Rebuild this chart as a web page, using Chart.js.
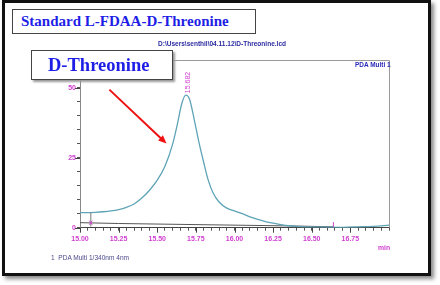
<!DOCTYPE html>
<html>
<head>
<meta charset="utf-8">
<script src="https://cdn.jsdelivr.net/npm/chart.js@4.4.0/dist/chart.umd.min.js"></script>
<style>
  html, body { margin: 0; padding: 0; background: #fff; }
  #wrap { position: relative; width: 440px; height: 285px; overflow: hidden; }
  #chart { position: absolute; left: 0; top: 0; }
  .frame { position: absolute; left: 2px; top: 0px; width: 423px; height: 270px;
    border: 3.5px solid #111; box-shadow: 3px 3px 4px #8a8a8a; }
  .box { position: absolute; background: #fff; border: 1.5px solid #444;
    font-family: "Liberation Serif", serif; font-weight: bold; color: #1e1ee6;
    white-space: nowrap; }
  #title { left: 12px; top: 9px; width: 234px; height: 23px; font-size: 15px;
    line-height: 23px; padding-left: 8px; box-sizing: content-box; }
  #sample { left: 31px; top: 50px; width: 140px; height: 28px; font-size: 18.5px;
    line-height: 28px; text-indent: 16px; box-shadow: 2px 2px 2px #999; }
  .small { position: absolute; font-family: "Liberation Sans", Arial, sans-serif;
    white-space: nowrap; transform-origin: 0 50%; }
  #path { left: 158px; top: 39px; font-size: 7.5px; color: #2a2aa0; font-weight: bold; transform: scaleX(0.87); }
  #pda { left: 355px; top: 60px; font-size: 7.5px; color: #2a2ab8; font-weight: bold; transform: scaleX(0.86); }
  #unit { left: 378px; top: 243px; font-size: 8px; color: #d040d0; font-weight: bold; transform: scaleX(0.85); }
  #legend { left: 51px; top: 253px; font-size: 8px; color: #4a4a8a; transform: scaleX(0.82); }
</style>
</head>
<body>
<div id="wrap">
  <canvas id="chart" width="440" height="285"></canvas>
  <div class="frame"></div>
  <div class="box" id="title">Standard L-FDAA-D-Threonine</div>
  <div class="small" id="path">D:\Users\senthil\04.11.12\D-Threonine.lcd</div>
  <div class="box" id="sample">D-Threonine</div>
  <div class="small" id="pda">PDA Multi 1</div>
  <div class="small" id="unit">min</div>
  <div class="small" id="legend">1&nbsp;&nbsp;PDA Multi 1/340nm 4nm</div>
</div>
<script>
// --- chromatogram data ---
const times = [15.00, 15.05, 15.10, 15.15, 15.20, 15.25, 15.30, 15.35, 15.40, 15.45,
  15.50, 15.55, 15.60, 15.63, 15.66, 15.685, 15.71, 15.74, 15.77, 15.80,
  15.83, 15.86, 15.90, 15.95, 16.00, 16.05, 16.10, 16.15, 16.20, 16.25,
  16.30, 16.35, 16.40, 16.50, 16.60, 16.70, 16.80, 16.90, 17.00];
const signal = [5.4, 5.4, 5.5, 5.7, 6.0, 6.5, 7.3, 8.5, 10.6, 13.4,
  17.0, 22.0, 30.0, 37.0, 44.6, 47.4, 45.8, 38.5, 30.5, 23.5,
  17.0, 12.6, 9.2, 7.0, 6.0, 5.0, 3.9, 3.0, 2.2, 1.6,
  1.1, 0.7, 0.5, 0.3, 0.2, 0.15, 0.3, 0.5, 0.9];

// integration baseline drawn under the peak
const baseTimes = [15.00, 15.25, 16.40, 16.64];
const baseVals = [1.8, 1.5, 0.6, 0.3];

// peak start / end markers
const markTimes = [15.07, 16.64];
const markLow = [0.4, 0.3];
const markHigh = [5.4, 2.0];

const peakTime = 15.682;
const peakHeight = 47.4;
const peakLabel = "15.682";

const xLabels = ["15.00", "15.25", "15.50", "15.75", "16.00", "16.25", "16.50", "16.75"];
const yLabels = [0, 25, 50];

// arrow pointing at the peak flank, in data units
const arrowFrom = { x: 15.19, y: 49.4 };
const arrowTo = { x: 15.56, y: 30.1 };

const magenta = "#d040d0";
const tickFont = { family: "'Liberation Sans', Arial, sans-serif", size: 7, weight: "bold" };

const datasets = [{
  label: "PDA Multi 1/340nm 4nm",
  data: times.map((t, i) => ({ x: t, y: signal[i] })),
  borderColor: "#5ea4b6",
  borderWidth: 1.3,
  pointRadius: 0,
  cubicInterpolationMode: "monotone",
  order: 1
}, {
  label: "baseline",
  data: baseTimes.map((t, i) => ({ x: t, y: baseVals[i] })),
  borderColor: "#555",
  borderWidth: 1,
  pointRadius: 0,
  order: 2
}];
markTimes.forEach((t, i) => {
  datasets.push({
    label: "mark" + i,
    data: [{ x: t, y: markLow[i] }, { x: t, y: markHigh[i] }],
    borderColor: i === 0 ? "#777" : magenta,
    borderWidth: 1,
    pointRadius: 0
  });
});

const extras = {
  id: "extras",
  afterDraw(chart) {
    const { ctx, chartArea: a, scales: { x, y } } = chart;
    ctx.save();
    // plot frame top / right
    ctx.strokeStyle = "#9a9a9a";
    ctx.lineWidth = 1;
    ctx.beginPath();
    ctx.moveTo(a.left, a.top + 0.5);
    ctx.lineTo(a.right + 0.5, a.top + 0.5);
    ctx.lineTo(a.right + 0.5, a.bottom);
    ctx.stroke();
    // longer major ticks
    ctx.strokeStyle = "#444";
    xLabels.forEach(l => {
      const px = Math.round(x.getPixelForValue(parseFloat(l))) + 0.5;
      ctx.beginPath(); ctx.moveTo(px, a.bottom); ctx.lineTo(px, a.bottom + 5); ctx.stroke();
    });
    yLabels.forEach(v => {
      const py = Math.round(y.getPixelForValue(v)) + 0.5;
      ctx.beginPath(); ctx.moveTo(a.left - 5, py); ctx.lineTo(a.left, py); ctx.stroke();
    });
    // magenta marker glyph at peak start
    const mx = x.getPixelForValue(markTimes[0]);
    const my = y.getPixelForValue(baseVals[0]);
    ctx.strokeStyle = magenta;
    ctx.beginPath(); ctx.moveTo(mx - 1.5, my - 2); ctx.lineTo(mx + 1.5, my + 2);
    ctx.moveTo(mx + 1.5, my - 2); ctx.lineTo(mx - 1.5, my + 2); ctx.stroke();
    // rotated peak retention time
    const px = x.getPixelForValue(peakTime) + 3;
    const py = y.getPixelForValue(peakHeight) - 2;
    ctx.translate(px, py);
    ctx.rotate(-Math.PI / 2);
    ctx.fillStyle = magenta;
    ctx.font = "7px 'Liberation Sans', Arial, sans-serif";
    ctx.textBaseline = "middle";
    ctx.fillText(peakLabel, 0, 0);
    ctx.setTransform(1, 0, 0, 1, 0, 0);
    // red arrow
    const x0 = x.getPixelForValue(arrowFrom.x), y0 = y.getPixelForValue(arrowFrom.y);
    const x1 = x.getPixelForValue(arrowTo.x), y1 = y.getPixelForValue(arrowTo.y);
    const ang = Math.atan2(y1 - y0, x1 - x0);
    ctx.strokeStyle = "#ee1111";
    ctx.fillStyle = "#ee1111";
    ctx.lineWidth = 2;
    ctx.beginPath();
    ctx.moveTo(x0, y0);
    ctx.lineTo(x1 - 6 * Math.cos(ang), y1 - 6 * Math.sin(ang));
    ctx.stroke();
    ctx.beginPath();
    ctx.moveTo(x1, y1);
    ctx.lineTo(x1 - 9 * Math.cos(ang - 0.4), y1 - 9 * Math.sin(ang - 0.4));
    ctx.lineTo(x1 - 9 * Math.cos(ang + 0.4), y1 - 9 * Math.sin(ang + 0.4));
    ctx.closePath();
    ctx.fill();
    ctx.restore();
  }
};

new Chart(document.getElementById("chart"), {
  type: "line",
  data: { datasets },
  options: {
    responsive: false,
    animation: false,
    layout: { padding: { top: 60, right: 51, left: 0, bottom: 0 } },
    plugins: { legend: { display: false }, tooltip: { enabled: false } },
    scales: {
      x: {
        type: "linear",
        min: 15, max: 17,
        afterFit: s => { s.height = 57.3; },
        border: { color: "#444", width: 1 },
        grid: { drawOnChartArea: false, tickLength: 3, color: "#555" },
        ticks: {
          stepSize: 0.05, autoSkip: false, maxRotation: 0, maxTicksLimit: 100,
          padding: 4, color: magenta, font: tickFont,
          callback: v => {
            const s = v.toFixed(2);
            return xLabels.includes(s) ? s : "";
          }
        }
      },
      y: {
        min: 0, max: 60,
        afterFit: s => { s.width = 80; },
        border: { color: "#888", width: 1 },
        grid: { drawOnChartArea: false, tickLength: 3, color: "#555" },
        ticks: {
          stepSize: 5, autoSkip: false, padding: 1, color: magenta, font: tickFont,
          callback: v => yLabels.includes(v) ? String(v) : ""
        }
      }
    }
  },
  plugins: [extras]
});
</script>
</body>
</html>
